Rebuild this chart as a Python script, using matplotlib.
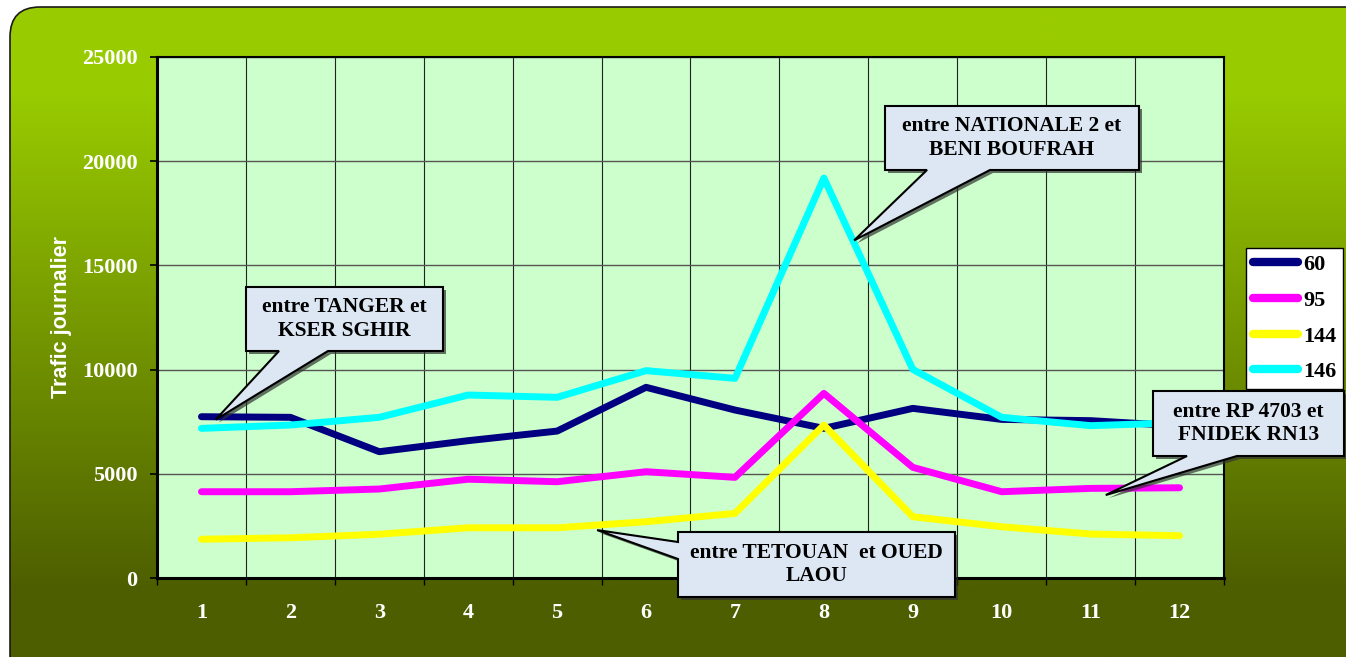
import matplotlib
matplotlib.use("Agg")
import matplotlib.pyplot as plt
import numpy as np
from matplotlib.patches import FancyBboxPatch, Polygon

# daily traffic per road section (months 1..12)
months = list(range(1, 13))
road_60 = [7740, 7710, 6060, 6590, 7050, 9150, 8060, 7180, 8140, 7610, 7550, 7300]
road_95 = [4140, 4140, 4270, 4740, 4620, 5100, 4830, 8860, 5310, 4140, 4300, 4330]
road_144 = [1860, 1930, 2100, 2410, 2410, 2700, 3100, 7340, 2940, 2460, 2110, 2030]
road_146 = [7180, 7340, 7710, 8780, 8670, 9950, 9580, 19190, 10010, 7710, 7310, 7450]
series_labels = ["60", "95", "144", "146"]
series_colors = ["#000080", "#FF00FF", "#FFFF00", "#00FFFF"]
y_ticks = [0, 5000, 10000, 15000, 20000, 25000]

W, H = 1346, 657
fig = plt.figure(figsize=(W / 100, H / 100), dpi=100)
fig.patch.set_facecolor("white")

# gradient rounded background
bg = fig.add_axes([0, 0, 1, 1], zorder=-5)
bg.set_xlim(0, W)
bg.set_ylim(H, 0)
bg.axis("off")
top = np.array([0x99, 0xCC, 0x00]) / 255
bot = np.array([0x4D, 0x5E, 0x00]) / 255
yy = np.linspace(0, H, 400)
t = np.clip((yy - 90) / 500, 0, 1)[:, None]
grad = (top * (1 - t) + bot * t)[:, None, :]
img = bg.imshow(grad, extent=[0, W, H, 0], aspect="auto", interpolation="bilinear")
frame = FancyBboxPatch((10, 7), W + 40, H + 30, boxstyle="round,pad=0,rounding_size=30",
                       facecolor="none", edgecolor="#1a1a1a", lw=1.2)
bg.add_patch(frame)
img.set_clip_path(frame)

# plot area
ax = fig.add_axes([157 / W, 1 - 578 / H, (1224 - 157) / W, (578 - 57) / H])
ax.set_facecolor("#CCFFCC")
for vals, lab, col in zip([road_60, road_95, road_144, road_146], series_labels, series_colors):
    ax.plot(months, vals, color=col, lw=5, label=lab, solid_capstyle="round",
            solid_joinstyle="round")
ax.set_xlim(0.5, 12.5)
ax.set_ylim(0, 25000)
ax.set_yticks(y_ticks)
ax.set_xticks(months)
ax.set_xticks(np.arange(0.5, 13, 1), minor=True)
ax.grid(axis="y", which="major", color="#555555", lw=1.0)
ax.grid(axis="x", which="minor", color="#222222", lw=0.8)
ax.set_axisbelow(True)
ax.tick_params(axis="x", which="major", length=0, pad=18)
ax.tick_params(axis="x", which="minor", length=5, width=1, color="black", direction="out")
ax.tick_params(axis="y", length=5, width=1.2, color="black", direction="out", pad=9)
for lbl in ax.get_xticklabels() + ax.get_yticklabels():
    lbl.set_fontfamily("Liberation Serif")
    lbl.set_fontweight("bold")
    lbl.set_fontsize(16)
    lbl.set_color("white")
for side in ["left", "bottom"]:
    ax.spines[side].set_linewidth(2.2)
for side in ["top", "right"]:
    ax.spines[side].set_linewidth(1.5)
for sp in ax.spines.values():
    sp.set_color("black")

fig.text(62 / W, 1 - 317 / H, "Trafic journalier", rotation=90, ha="center", va="center",
         color="white", fontweight="bold", fontsize=15.5, family="Liberation Sans")

# callouts (box in pixels, tip anchored on the data)
over = fig.add_axes([0, 0, 1, 1], zorder=5)
over.set_xlim(0, W)
over.set_ylim(H, 0)
over.axis("off")
over.patch.set_alpha(0)

callouts = [
    ("entre TANGER et\nKSER SGHIR", (246, 287, 443, 351), "bottom", (279, 328), (1.16, 7600)),
    ("entre NATIONALE 2 et\nBENI BOUFRAH", (885, 106, 1139, 170), "bottom", (927, 990), (8.34, 16200)),
    ("entre TETOUAN  et OUED\nLAOU", (678, 532, 955, 597), "left", (542, 559), (5.45, 2300)),
    ("entre RP 4703 et\nFNIDEK RN13", (1153, 391, 1344, 456), "bottom", (1187, 1237), (11.17, 3980)),
]
to_over = over.transData.inverted()
for text, (x0, y0, x1, y1), side, (b1, b2), tip_data in callouts:
    tx, ty = to_over.transform(ax.transData.transform(tip_data))
    if side == "bottom":
        pts = [(x0, y0), (x1, y0), (x1, y1), (b2, y1), (tx, ty), (b1, y1), (x0, y1)]
    else:
        pts = [(x0, y0), (x1, y0), (x1, y1), (x0, y1), (x0, b2), (tx, ty), (x0, b1)]
    shadow = Polygon([(px + 3, py + 3) for px, py in pts], closed=True,
                     facecolor="#333333", edgecolor="none", alpha=0.7)
    over.add_patch(shadow)
    over.add_patch(Polygon(pts, closed=True, facecolor="#DDE7F3", edgecolor="black", lw=1.5))
    over.text((x0 + x1) / 2, (y0 + y1) / 2, text, ha="center", va="center",
              family="Liberation Serif", fontweight="bold", fontsize=15.5, linespacing=1.25)

leg = fig.legend(loc="upper left", bbox_to_anchor=(1246 / W, 1 - 248 / H),
                 prop={"family": "Liberation Serif", "weight": "bold", "size": 16},
                 frameon=True, fancybox=False, framealpha=1, edgecolor="black",
                 handlelength=2.05, handletextpad=0.22, borderpad=0.3,
                 labelspacing=0.68, borderaxespad=0)
leg.set_zorder(10)
leg.get_frame().set_linewidth(1.0)
for h in leg.get_lines():
    h.set_linewidth(6)
    h.set_solid_capstyle("round")

fig.savefig("out.png", dpi=100)
